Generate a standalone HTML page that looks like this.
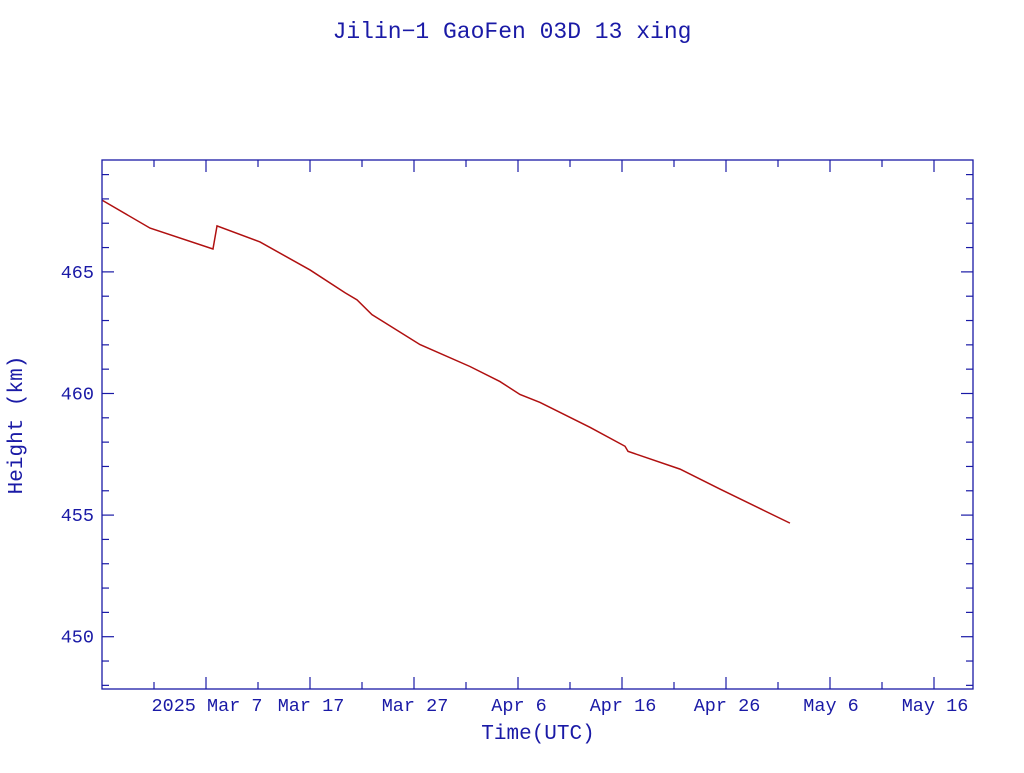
<!DOCTYPE html>
<html><head><meta charset="utf-8"><style>
body{margin:0;background:#fff;}
svg text{font-family:"Liberation Mono",monospace;fill:#1a1aa6;}
</style></head><body>
<svg id="chart" width="1024" height="768" xmlns="http://www.w3.org/2000/svg">
<text x="512" y="38" font-size="23" text-anchor="middle">Jilin−1 GaoFen 03D 13 xing</text>
<text transform="translate(22,425) rotate(-90)" font-size="21" text-anchor="middle">Height (km)</text>
<text x="538" y="739" font-size="21" text-anchor="middle">Time(UTC)</text>
<g id="axes"></g>
<g id="series"></g>
<rect x="102" y="160" width="871" height="529" fill="none" stroke="#1a1aa6" stroke-width="1.3"/>
</svg>
<script>
// days relative to 2025 Mar 7
const days=[-10,-5.38,0.67,1.06,5.19,10.0,13.37,14.52,15.96,20.58,25.38,28.27,30.19,32.12,36.92,40.29,40.58,45.58,49.42,56.15];
const heights=[467.95,466.80,465.94,466.89,466.23,465.08,464.14,463.85,463.24,462.01,461.11,460.49,459.96,459.63,458.61,457.83,457.62,456.89,456.07,454.67];
const xTickDays=[0,10,20,30,40,50,60,70];
const xTickLabels=["2025 Mar  7","Mar 17","Mar 27","Apr  6","Apr 16","Apr 26","May  6","May 16"];
const yTicks=[450,455,460,465];
const yTickLabels=["450","455","460","465"];
const X0=102,X1=973,Y0=689,Y1=160,D0=-10,D1=73.75,H0=447.85,H1=469.6;
const sx=d=>X0+(d-D0)/(D1-D0)*(X1-X0);
const sy=h=>Y0-(h-H0)/(H1-H0)*(Y0-Y1);
const NS="http://www.w3.org/2000/svg";
const axes=document.getElementById('axes'),ser=document.getElementById('series');
function mk(tag,attrs,parent){const e=document.createElementNS(NS,tag);for(const k in attrs)e.setAttribute(k,attrs[k]);parent.appendChild(e);return e;}
const C="#1a1aa6";
for(let d=-5;d<=D1;d+=5){const x=sx(d);const major=(d%10===0);const L=major?12:7;
 const t=mk('line',{x1:x,x2:x,y1:Y0,y2:Y0-L,stroke:C,'stroke-width':1.2},axes);
 
 
 const t2=mk('line',{x1:x,x2:x,y1:Y1,y2:Y1+L,stroke:C,'stroke-width':1.2},axes);
 
 }
xTickDays.forEach((d,i)=>{const t=mk('text',{x:sx(d)+1,y:711,'font-size':18.5,'text-anchor':'middle','xml:space':'preserve'},axes);t.textContent=xTickLabels[i];
 
 });
for(let h=448;h<=469;h++){const y=sy(h);const major=(h%5===0);const L=major?12:7;
 const t=mk('line',{x1:X0,x2:X0+L,y1:y,y2:y,stroke:C,'stroke-width':1.2},axes);
 
 
 const t2=mk('line',{x1:X1,x2:X1-L,y1:y,y2:y,stroke:C,'stroke-width':1.2},axes);
 
 }
yTicks.forEach((h,i)=>{const t=mk('text',{x:94,y:sy(h)+6,'font-size':18.5,'text-anchor':'end'},axes);t.textContent=yTickLabels[i];
 
 });
const p=mk('polyline',{points:days.map((d,i)=>sx(d)+','+sy(heights[i])).join(' '),fill:'none',stroke:'#b01010','stroke-width':1.5},ser);


</script>
</body></html>
